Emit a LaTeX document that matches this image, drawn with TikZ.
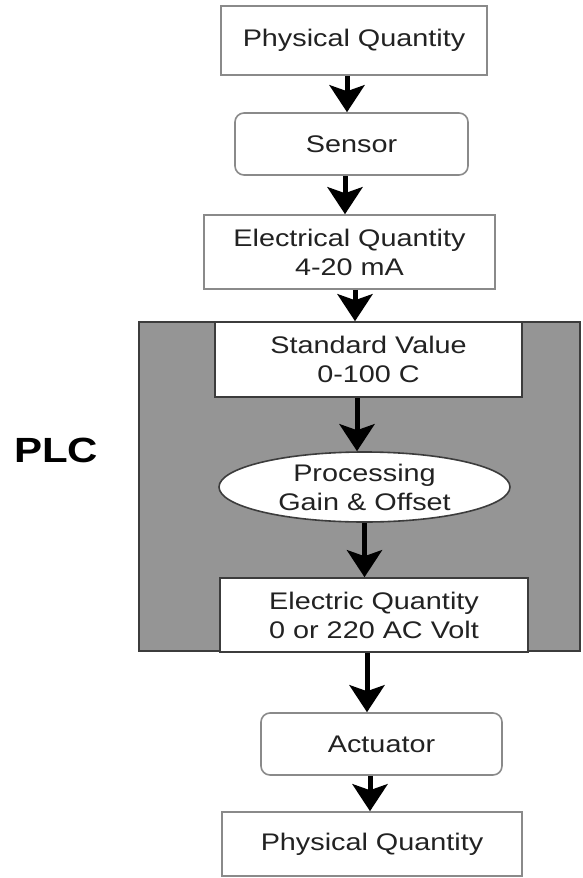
\documentclass[tikz,border=0pt]{standalone}
\usepackage{fontspec}
\setmainfont[FakeStretch=1.2]{Liberation Sans}
\usetikzlibrary{arrows.meta,shapes.geometric}
\definecolor{boxline}{HTML}{8A8A8A}
\definecolor{plcfill}{HTML}{959595}
\definecolor{plcline}{HTML}{3C3C3C}
\definecolor{txt}{HTML}{222222}
\tikzset{
  stage/.style={draw=boxline, line width=1.6pt, fill=white, inner sep=0pt,
    align=center, text=txt, font=\fontsize{24}{29}\selectfont},
  roundstage/.style={stage, rounded corners=9pt},
  flow/.style={line width=5pt, black,
    -{Stealth[length=27pt, width=35pt, inset=6pt]}},
}
\begin{document}
\begin{tikzpicture}[x=1pt, y=-1pt]
\useasboundingbox (0,0) rectangle (582,878);

% PLC enclosure
\node[draw=plcline, fill=plcfill, line width=2pt, minimum width=441pt,
      minimum height=329pt, inner sep=0pt] (plc) at (359.5,486.5) {};
\node[font=\bfseries\fontsize{35}{40}\selectfont, text=black] (plclabel) at (56,450) {PLC};

% stages
\node[stage, minimum width=266pt, minimum height=69pt] (phys1) at (354,40.5) {Physical Quantity};
\node[roundstage, minimum width=233pt, minimum height=62pt] (sensor) at (351.5,144) {Sensor};
\node[stage, minimum width=291pt, minimum height=74pt] (elec) at (349.5,252) {Electrical Quantity\\4-20 mA};
\node[stage, draw=plcline, minimum width=307pt, minimum height=75pt] (std) at (368.5,359.5) {Standard Value\\0-100 C};
\node[stage, draw=plcline, ellipse, minimum width=291pt, minimum height=70pt] (proc) at (364.5,487) {};
\node[stage, draw=none, fill=none] (proctext) at (proc.center) {Processing\\Gain \& Offset};
\node[stage, draw=plcline, minimum width=308pt, minimum height=74pt] (out) at (374,615) {Electric Quantity\\0 or 220 AC Volt};
\node[roundstage, minimum width=241pt, minimum height=62pt] (act) at (381.5,744) {Actuator};
\node[stage, minimum width=300pt, minimum height=64pt] (phys2) at (372,844) {Physical Quantity};

% signal flow
\draw[flow] ([xshift=-7pt]phys1.south) -- ([xshift=-7pt]phys1.south |- sensor.north);
\draw[flow] ([xshift=-6.5pt]sensor.south) -- ([xshift=-6.5pt]sensor.south |- elec.north);
\draw[flow] ([xshift=5.5pt]elec.south) -- ([xshift=5.5pt]elec.south |- std.north);
\draw[flow] ([xshift=-11.5pt]std.south) -- ([xshift=-11.5pt]std.south |- proc.north);
\draw[flow] (proc.south) -- (proc.south |- out.north);
\draw[flow] ([xshift=-7pt]out.south) -- ([xshift=-7pt]out.south |- act.north);
\draw[flow] ([xshift=-11.5pt]act.south) -- ([xshift=-11.5pt]act.south |- phys2.north);
\end{tikzpicture}
\end{document}
